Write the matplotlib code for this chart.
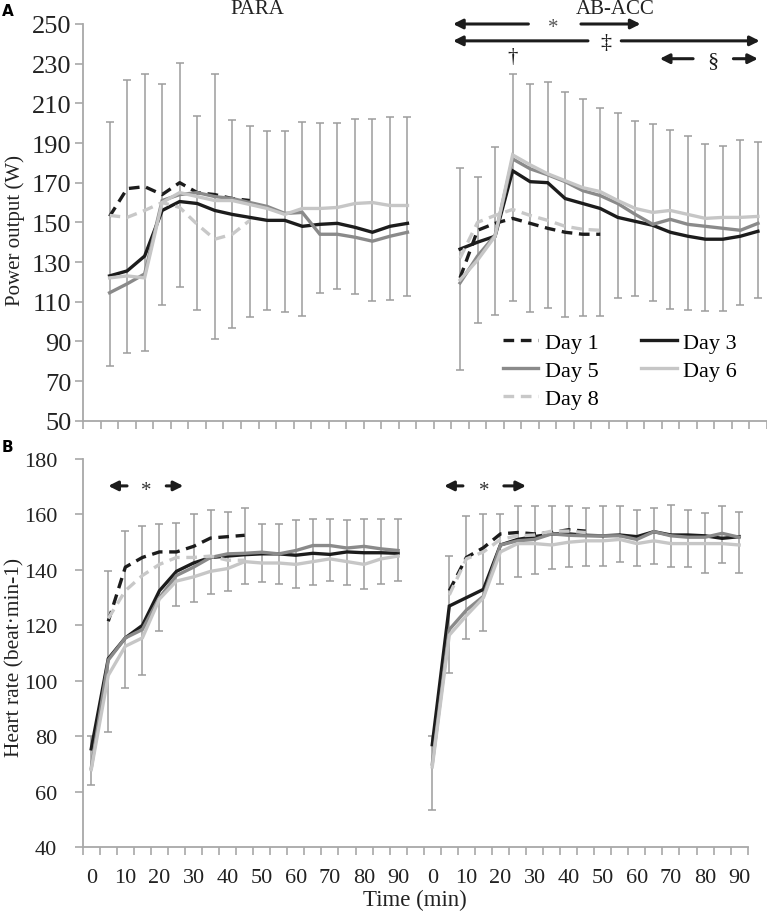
import numpy as np
import matplotlib
matplotlib.use("Agg")
import matplotlib.pyplot as plt

plt.rcParams['font.family'] = 'serif'
plt.rcParams['font.serif'] = ['Liberation Serif', 'DejaVu Serif']

nan = np.nan
times = [0, 5, 10, 15, 20, 25, 30, 35, 40, 45, 50, 55, 60, 65, 70, 75, 80, 85, 90]
groups = ['PARA', 'AB-ACC']
days = ['Day 1', 'Day 3', 'Day 5', 'Day 6', 'Day 8']

# power output (W), one list per day, times 0..90
po_para = {
    'Day 1': [nan, 153, 167, 168, 164, 170, 165, 164, 162, 161] + [nan] * 9,
    'Day 3': [nan, 123, 125.5, 133, 156, 160.5, 159.5, 156, 154, 152.5, 151, 151, 148, 149, 149.5, 147.5, 145, 148, 149.5],
    'Day 5': [nan, 114.5, 119, 124, 161, 164, 165, 163, 162, 160, 158, 154.5, 155, 144, 144, 142.5, 140.5, 143, 145],
    'Day 6': [nan, 122, 123, 122, 160, 165, 163, 161, 161, 159, 157, 154, 157, 157, 157.5, 159.5, 160, 158.5, 158.5],
    'Day 8': [nan, 153.5, 152.5, 156, 160, 157.5, 149, 141.5, 144, 151] + [nan] * 9,
}
po_acc = {
    'Day 1': [nan, 122, 146, 149.5, 152, 149.5, 147, 145, 144, 144] + [nan] * 9,
    'Day 3': [nan, 136.5, 140, 143, 176, 170.5, 170, 162, 159.5, 157, 152.5, 150.5, 148.5, 145, 143, 141.5, 141.5, 143, 145.5],
    'Day 5': [nan, 119.5, 133, 143.5, 182, 177, 174, 170.5, 166, 163.5, 159.5, 154, 149, 151.5, 149, 148, 147, 146, 149.5],
    'Day 6': [nan, 121, 131, 143, 184, 179, 174.5, 171, 167.5, 165.5, 161, 157, 155, 156, 154, 152, 152.5, 152.5, 153],
    'Day 8': [nan, 132, 150, 153.5, 156.5, 153.5, 151, 148, 146.5, 146] + [nan] * 9,
}
po_para_hi = [nan, 200.5, 222, 225, 220, 230.5, 203.5, 225, 201.5, 198.5, 196, 196, 200.5, 200, 200, 202, 202, 203, 203]
po_para_lo = [nan, 77.5, 84, 85, 108.5, 117.5, 106, 91, 96.5, 102.5, 106, 105, 103, 114.5, 116.5, 114, 110.5, 111, 113]
po_acc_hi = [nan, 177.5, 173, 188, 225, 220, 221, 215.5, 212, 207.5, 205, 201, 199.5, 196.5, 193.5, 189.5, 188.5, 191.5, 190.5]
po_acc_lo = [nan, 75.5, 99.5, 103.5, 110.5, 105, 107, 102.5, 103, 103, 112, 113, 110.5, 106.5, 106, 105.5, 105.5, 108.5, 112]

# heart rate (beat/min)
hr_para = {
    'Day 1': [nan, 121.5, 141, 144.5, 146.5, 146.5, 148.5, 151.5, 152, 152.5] + [nan] * 9,
    'Day 3': [75.5, 108, 115.5, 120, 132.5, 139.5, 142.5, 144.5, 145, 145.5, 145.8, 145.8, 145.3, 146, 145.6, 146.5, 146.2, 146.2, 146],
    'Day 5': [68.5, 107.5, 115.5, 118.5, 130, 138, 141, 144.5, 145.8, 146, 146.4, 145.8, 147, 148.8, 148.8, 147.9, 148.5, 147.6, 147],
    'Day 6': [68, 102, 112.5, 115.5, 129.5, 136, 137.5, 139.5, 140.5, 143, 142.5, 142.5, 142, 143, 144, 143, 142, 144, 145],
    'Day 8': [nan, 122.5, 132.5, 138, 142, 144.5, 144.5, 145, 143.5, 143.5] + [nan] * 9,
}
hr_acc = {
    'Day 1': [nan, 132.5, 144.5, 148, 153, 153.5, 153, 153.5, 154.5, 154] + [nan] * 9,
    'Day 3': [77, 127, 130, 133, 149, 151, 152, 153, 153, 152.5, 152.3, 152.6, 152, 153.8, 152.6, 152.6, 152.3, 151.4, 152],
    'Day 5': [70, 118.5, 125.5, 130.5, 149, 150.5, 151, 153, 152.5, 152.3, 152.3, 152.3, 151, 153.8, 152.3, 151.8, 151.8, 153.2, 151.8],
    'Day 6': [69, 116.5, 123.5, 130, 146.5, 149.5, 149.5, 149, 150, 150.5, 150.5, 151, 149.5, 150.5, 149.5, 149.5, 149.5, 149.5, 149],
    'Day 8': [nan, 131, 144, 146.5, 151, 152.3, 152.6, 154, 154, 153.5] + [nan] * 9,
}
hr_para_hi = [80, 139.5, 154, 156, 156.5, 157, 160, 161.5, 161, 162.5, 156.5, 156.5, 158, 158.5, 158.5, 158, 158.5, 158.5, 158.5]
hr_para_lo = [62.5, 81.5, 97.5, 102, 118, 127, 128.5, 131.5, 132.5, 135, 135.5, 135, 133.5, 134.5, 136, 134.5, 133, 135, 136]
hr_acc_hi = [80, 145, 159.5, 160, 160, 163, 163, 163, 163, 162.5, 163, 163, 161.5, 162.5, 163.5, 161.5, 160.5, 163, 161]
hr_acc_lo = [53.5, 103, 115, 118, 135, 137.5, 138.5, 140.5, 141, 141.5, 141.5, 143, 141.5, 142, 141, 141, 139, 142.5, 139]

styles = {
    'Day 1': dict(color='#1c1c1c', ls=(0, (3.2, 2.0))),
    'Day 3': dict(color='#1c1c1c', ls='-'),
    'Day 5': dict(color='#8a8a8a', ls='-'),
    'Day 6': dict(color='#c6c6c6', ls='-'),
    'Day 8': dict(color='#c8c8c8', ls=(0, (3.2, 2.0))),
}

n = len(times)
xpos = np.arange(2 * n + 1)  # blank slot between the two groups
labels = [str(t) if t % 10 == 0 else '' for t in times]
xlabels = labels + [''] + labels


def join(a, b):
    return np.concatenate([np.array(a, float), [nan], np.array(b, float)])


def draw(ax, para, acc, hi_a, lo_a, hi_b, lo_b, ylo, yhi, ystep, ysize, ypad):
    hi = join(hi_a, hi_b)
    lo = join(lo_a, lo_b)
    ok = ~np.isnan(hi)
    mid = (hi + lo) / 2
    ax.errorbar(xpos[ok], mid[ok], yerr=[mid[ok] - lo[ok], hi[ok] - mid[ok]], fmt='none',
                ecolor='#9c9c9c', elinewidth=1.1, capsize=2.6, capthick=1.1, zorder=1)
    lines = {}
    for d in days:
        lines[d], = ax.plot(xpos, join(para[d], acc[d]), lw=2.4, label=d, zorder=2,
                            solid_joinstyle='miter', **styles[d])
    ax.set_xlim(-0.5, 2 * n + 0.5)
    ax.set_ylim(ylo, yhi)
    ax.set_yticks(np.arange(ylo, yhi + 1, ystep))
    ax.set_xticks(xpos)
    ax.set_xticklabels(xlabels)
    ax.set_xticks(np.arange(-0.5, 2 * n + 1), minor=True)
    ax.tick_params(axis='x', which='major', length=0, labelsize=16, pad=15, colors='#222222')
    ax.tick_params(axis='x', which='minor', length=5.5, width=1.1, color='#a0a0a0')
    ax.tick_params(axis='y', length=5.5, width=1.1, color='#a0a0a0', labelsize=ysize,
                   pad=ypad, labelcolor='#222222')
    for s in ['top', 'right']:
        ax.spines[s].set_visible(False)
    for s in ['left', 'bottom']:
        ax.spines[s].set_color('#a8a8a8')
        ax.spines[s].set_linewidth(1.3)
    return lines


def arrow(ax, x0, x1, y):
    ax.annotate('', xy=(x1, y), xytext=(x0, y), annotation_clip=False,
                arrowprops=dict(arrowstyle='-|>', color='#1c1c1c', lw=2.2,
                                mutation_scale=14, shrinkA=0, shrinkB=0))


W, H = 767, 912
fig = plt.figure(figsize=(W / 100, H / 100), dpi=100)
ax1 = fig.add_axes([83.3 / W, 1 - 421.7 / H, 683.4 / W, 396.7 / H])
ax2 = fig.add_axes([82.7 / W, 1 - 848.3 / H, 665 / W, 388.3 / H])

lines = draw(ax1, po_para, po_acc, po_para_hi, po_para_lo, po_acc_hi, po_acc_lo, 50, 250, 20, 19, 3)
ax1.set_xticklabels([])
draw(ax2, hr_para, hr_acc, hr_para_hi, hr_para_lo, hr_acc_hi, hr_acc_lo, 40, 180, 20, 16, 13)

order = ['Day 1', 'Day 5', 'Day 8', 'Day 3', 'Day 6']
ax1.legend([lines[d] for d in order], order, ncol=2, frameon=False, fontsize=16,
           loc='upper left', bbox_to_anchor=(0.614, 0.2236), borderaxespad=0, borderpad=0,
           handlelength=1.6, handletextpad=0.3, columnspacing=1.9, labelspacing=0.34)

# significance markers, power output
arrow(ax1, 24.9, 20.6, 250)
arrow(ax1, 27.9, 31.3, 250)
ax1.text(26.3, 248, '*', ha='center', va='center', fontsize=15, color='#555555')
arrow(ax1, 28.3, 20.6, 241.5)
arrow(ax1, 30.2, 38.1, 241.5)
ax1.text(29.3, 240.5, '‡', ha='center', va='center', fontsize=16, color='#1c1c1c')
ax1.text(24.0, 233.5, '†', ha='center', va='center', fontsize=15, color='#1c1c1c')
arrow(ax1, 34.3, 32.4, 232.5)
arrow(ax1, 36.6, 38.0, 232.5)
ax1.text(35.4, 231.5, '§', ha='center', va='center', fontsize=16, color='#1c1c1c')

# significance markers, heart rate
arrow(ax2, 2.1, 1.0, 170.3)
arrow(ax2, 4.4, 5.4, 170.3)
ax2.text(3.2, 168.8, '*', ha='center', va='center', fontsize=15, color='#333333')
arrow(ax2, 21.8, 20.7, 170.3)
arrow(ax2, 24.2, 25.5, 170.3)
ax2.text(23.05, 168.8, '*', ha='center', va='center', fontsize=15, color='#333333')

fig.text(257 / W, 1 - 9 / H, groups[0], ha='center', va='center', fontsize=15, color='#222222')
fig.text(615 / W, 1 - 9 / H, groups[1], ha='center', va='center', fontsize=15, color='#222222')
fig.text(7.5 / W, 1 - 11 / H, 'A', ha='center', va='center', fontsize=11, fontweight='bold',
         family='DejaVu Sans')
fig.text(7.5 / W, 1 - 447.5 / H, 'B', ha='center', va='center', fontsize=11, fontweight='bold',
         family='DejaVu Sans')
fig.text(15 / W, 1 - 231 / H, 'Power output (W)', rotation=90, ha='center', va='center',
         fontsize=15, color='#222222')
fig.text(15 / W, 1 - 657 / H, 'Heart rate (beat·min-1)', rotation=90, ha='center', va='center',
         fontsize=15.5, color='#222222')
fig.text(415 / W, 1 - 900 / H, 'Time (min)', ha='center', va='center', fontsize=16.5, color='#222222')

fig.savefig('out.png', dpi=100)
